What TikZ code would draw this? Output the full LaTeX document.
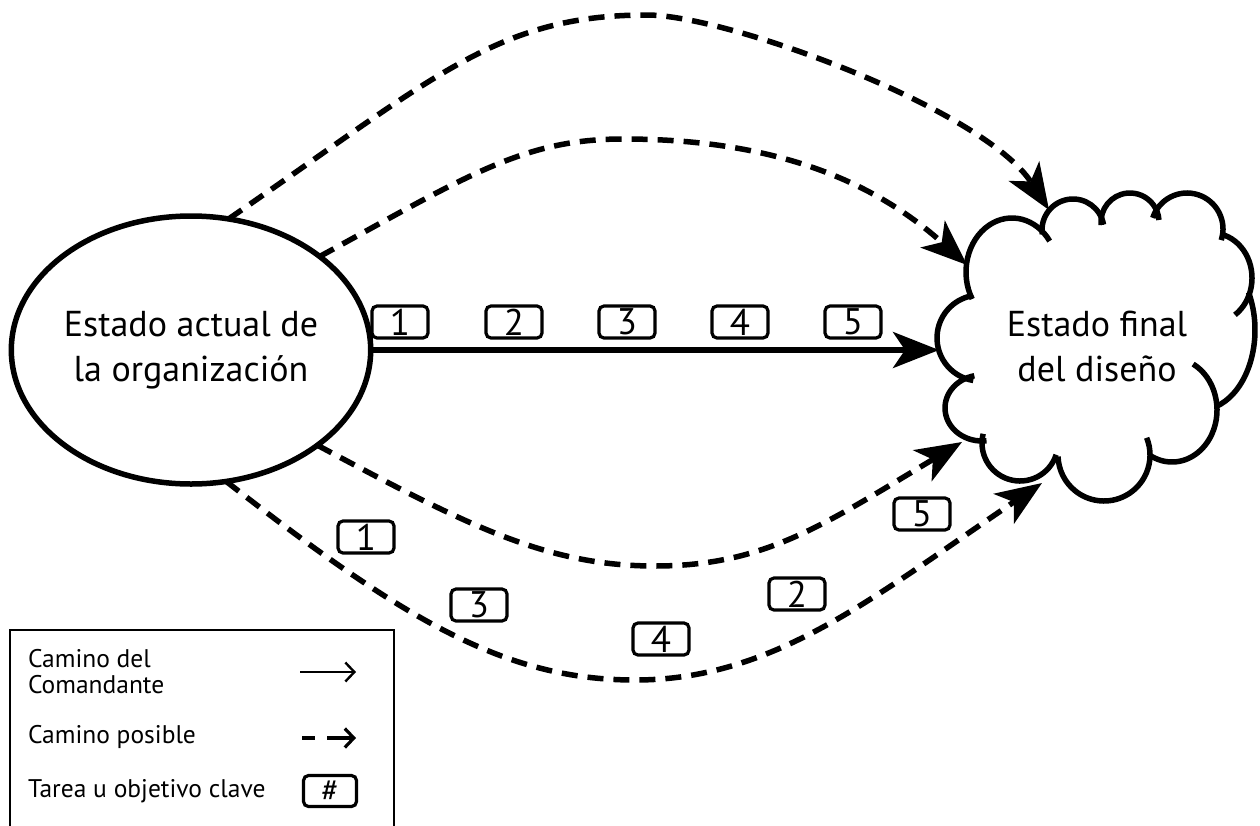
\documentclass[tikz,border=0pt]{standalone}
\usepackage{fontspec}
\setmainfont{PT Sans}
\usetikzlibrary{arrows.meta,shapes.geometric}

\begin{document}
\begin{tikzpicture}[x=1pt,y=-1pt,
  every node/.style={inner sep=0pt, outer sep=0pt},
  state/.style={ellipse, draw, line width=5.5pt, minimum width=293pt,
    minimum height=268pt, align=center, font=\fontsize{36}{45}\selectfont},
  cloudtext/.style={align=center, font=\fontsize{36}{45}\selectfont},
  taskbox/.style={draw, line width=3.2pt, rounded corners=5pt,
    minimum width=56pt, minimum height=32pt, font=\fontsize{37}{37}\selectfont},
  puff/.style={line width=5.5pt},
  bigtip/.style={-{Stealth[length=46pt,width=36pt,inset=12pt]}},
  mainpath/.style={line width=5.5pt, bigtip},
  altpath/.style={line width=5.5pt, dash pattern=on 16pt off 10pt, bigtip},
  legendtext/.style={anchor=base west, font=\fontsize{25.5}{26}\selectfont},
]
\useasboundingbox (0,0) rectangle (1260,825);

% current state of the organisation
\node[state] (org) at (191,350) {Estado actual de\\la organización};

% end state: hand-drawn cloud made of puffs
\coordinate (c0) at (980,338);
\coordinate (c1) at (1012,272);
\coordinate (c2) at (1073,230);
\coordinate (c3) at (1130,222);
\coordinate (c4) at (1187,229);
\coordinate (c5) at (1212,278);
\coordinate (c6) at (1200,330);
\coordinate (c7) at (1172,410);
\coordinate (c8) at (1104,455);
\coordinate (c9) at (1020,443);
\coordinate (c10) at (982,408);
\draw[puff] ([shift={(99:43)}]c0) arc[start angle=99, end angle=258, radius=43];
\draw[puff] ([shift={(150:46 and 54)}]c1) arc[start angle=150, end angle=325, x radius=46, y radius=54];
\draw[puff] ([shift={(172:31)}]c2) arc[start angle=172, end angle=350, radius=31];
\draw[puff] ([shift={(174:29)}]c3) arc[start angle=174, end angle=356, radius=29];
\draw[puff] ([shift={(198:36)}]c4) arc[start angle=198, end angle=378, radius=36];
\draw[puff] ([shift={(282:40 and 45)}]c5) arc[start angle=282, end angle=415, x radius=40, y radius=45];
\draw[puff] ([shift={(-28:55 and 80)}]c6) arc[start angle=-28, end angle=73, x radius=55, y radius=80];
\draw[puff] ([shift={(-62:45 and 52)}]c7) arc[start angle=-62, end angle=120, x radius=45, y radius=52];
\draw[puff] ([shift={(-22:46)}]c8) arc[start angle=-22, end angle=178, radius=46];
\draw[puff] ([shift={(18:38)}]c9) arc[start angle=18, end angle=194, radius=38];
\draw[puff] ([shift={(83:37 and 33)}]c10) arc[start angle=83, end angle=258, x radius=37, y radius=33];
\node[cloudtext] (fin) at (1097,346) {Estado final\\del diseño};

% where the paths meet the cloud
\coordinate (tm) at (939,350);
\coordinate (t1) at (1049,210);
\coordinate (t2) at (967,265);
\coordinate (t3) at (962,442);
\coordinate (t4) at (1042,483);

% commander's path and its key tasks
\draw[mainpath] (org.east) -- (tm);
\node[taskbox] (m1) at (400,322) {1};
\node[taskbox] (m2) at (514,322) {2};
\node[taskbox] (m3) at (627,322) {3};
\node[taskbox] (m4) at (740,322) {4};
\node[taskbox] (m5) at (853,322) {5};

% possible paths
\draw[altpath] (org.74) .. controls (435,77) and (497,15) .. (647,15)
  .. controls (727,15) and (984,109) .. (t1);
\draw[altpath] (org.36) .. controls (467,176) and (523,139) .. (623,139)
  .. controls (743,139) and (856,165) .. (t2);
\draw[altpath] (org.-37) .. controls (465,524) and (545,566) .. (655,566)
  .. controls (765,566) and (825,524) .. (t3);
\draw[altpath] (org.-75) .. controls (404,620) and (505,680) .. (635,680)
  .. controls (775,680) and (876,595) .. (t4);

% key tasks along the lower paths
\node[taskbox] (a1) at (366,537) {1};
\node[taskbox] (a3) at (479,605) {3};
\node[taskbox] (a4) at (661,639) {4};
\node[taskbox] (a2) at (797,594) {2};
\node[taskbox] (a5) at (922,514) {5};

% legend
\draw[line width=2.5pt] (10,850) -- (10,630) -- (394,630) -- (394,850);
\node[legendtext] (l1a) at (28,667) {Camino del};
\node[legendtext] (l1b) at (28,693) {Comandante};
\node[legendtext] (l2) at (28,743) {Camino posible};
\node[legendtext] (l3) at (28,797) {Tarea u objetivo clave};
\coordinate (s1) at (300,672);
\coordinate (e1) at (356,672);
\coordinate (s2) at (302,738);
\coordinate (e2) at (356,738);
\draw[line width=2.4pt, -{Straight Barb[length=9pt,width=19pt]}] (s1) -- (e1);
\draw[line width=3.2pt, dash pattern=on 13pt off 12pt on 40pt,
  -{Straight Barb[length=9pt,width=19pt]}] (s2) -- (e2);
\node[taskbox, minimum width=53pt, minimum height=31pt,
  font=\fontsize{32}{32}\selectfont] (lk) at (330,791) {\#};
\end{tikzpicture}
\end{document}
